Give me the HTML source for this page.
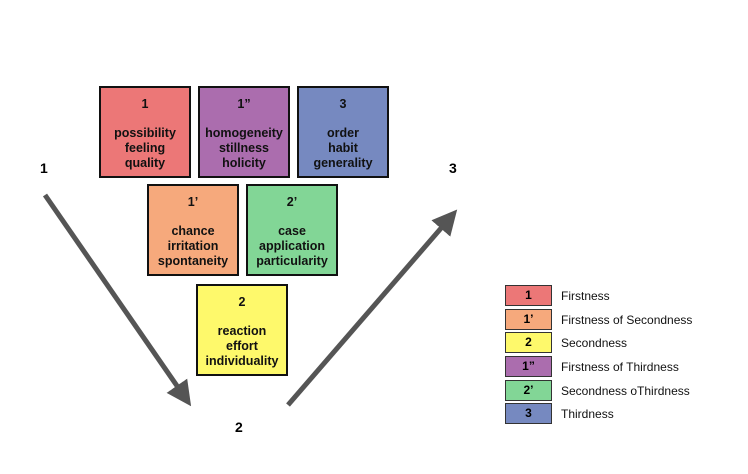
<!DOCTYPE html>
<html><head><style>
body{margin:0;width:748px;height:474px;background:#fff;position:relative;font-family:"Liberation Sans",Arial,sans-serif;overflow:hidden}
.b{position:absolute;width:92px;height:92px;border:2px solid #111;box-sizing:border-box;text-align:center;font-weight:bold;font-size:12.5px;line-height:15px;color:#111}
.b .n{margin-top:9px;margin-bottom:14px}
.l{position:absolute;left:505px;width:47px;height:21px;border:1px solid #333;box-sizing:border-box;text-align:center;font-weight:bold;font-size:12px;line-height:19px}
.t{position:absolute;left:561px;font-size:12px;line-height:21px;color:#111}
.lab{position:absolute;font-weight:bold;font-size:14px}
</style></head><body>
<svg width="748" height="474" style="position:absolute;left:0;top:0">
<defs><marker id="a" markerWidth="5" markerHeight="5" refX="2.5" refY="2.5" orient="auto"><path d="M0,0 L5,2.5 L0,5z" fill="#555"/></marker></defs>
<line x1="45" y1="195" x2="184" y2="396" stroke="#555" stroke-width="5" marker-end="url(#a)"/>
<line x1="288" y1="405" x2="449" y2="219" stroke="#555" stroke-width="5" marker-end="url(#a)"/>
</svg>
<div class="b" style="left:99px;top:86px;background:#ec7777"><div class="n">1</div>possibility<br>feeling<br>quality</div>
<div class="b" style="left:198px;top:86px;background:#ab6dae"><div class="n">1”</div>homogeneity<br>stillness<br>holicity</div>
<div class="b" style="left:297px;top:86px;background:#7689c0"><div class="n">3</div>order<br>habit<br>generality</div>
<div class="b" style="left:147px;top:184px;background:#f6a97c"><div class="n">1’</div>chance<br>irritation<br>spontaneity</div>
<div class="b" style="left:246px;top:184px;background:#82d696"><div class="n">2’</div>case<br>application<br>particularity</div>
<div class="b" style="left:196px;top:284px;background:#fef96b"><div class="n">2</div>reaction<br>effort<br>individuality</div>
<div class="lab" style="left:40px;top:160px">1</div>
<div class="lab" style="left:449px;top:160px">3</div>
<div class="lab" style="left:235px;top:419px">2</div>
<div class="l" style="top:285px;background:#ec7777">1</div><div class="t" style="top:286px">Firstness</div>
<div class="l" style="top:309px;background:#f6a97c">1’</div><div class="t" style="top:310px">Firstness of Secondness</div>
<div class="l" style="top:332px;background:#fef96b">2</div><div class="t" style="top:333px">Secondness</div>
<div class="l" style="top:356px;background:#ab6dae">1”</div><div class="t" style="top:357px">Firstness of Thirdness</div>
<div class="l" style="top:380px;background:#82d696">2’</div><div class="t" style="top:381px">Secondness oThirdness</div>
<div class="l" style="top:403px;background:#7689c0">3</div><div class="t" style="top:404px">Thirdness</div>
</body></html>
